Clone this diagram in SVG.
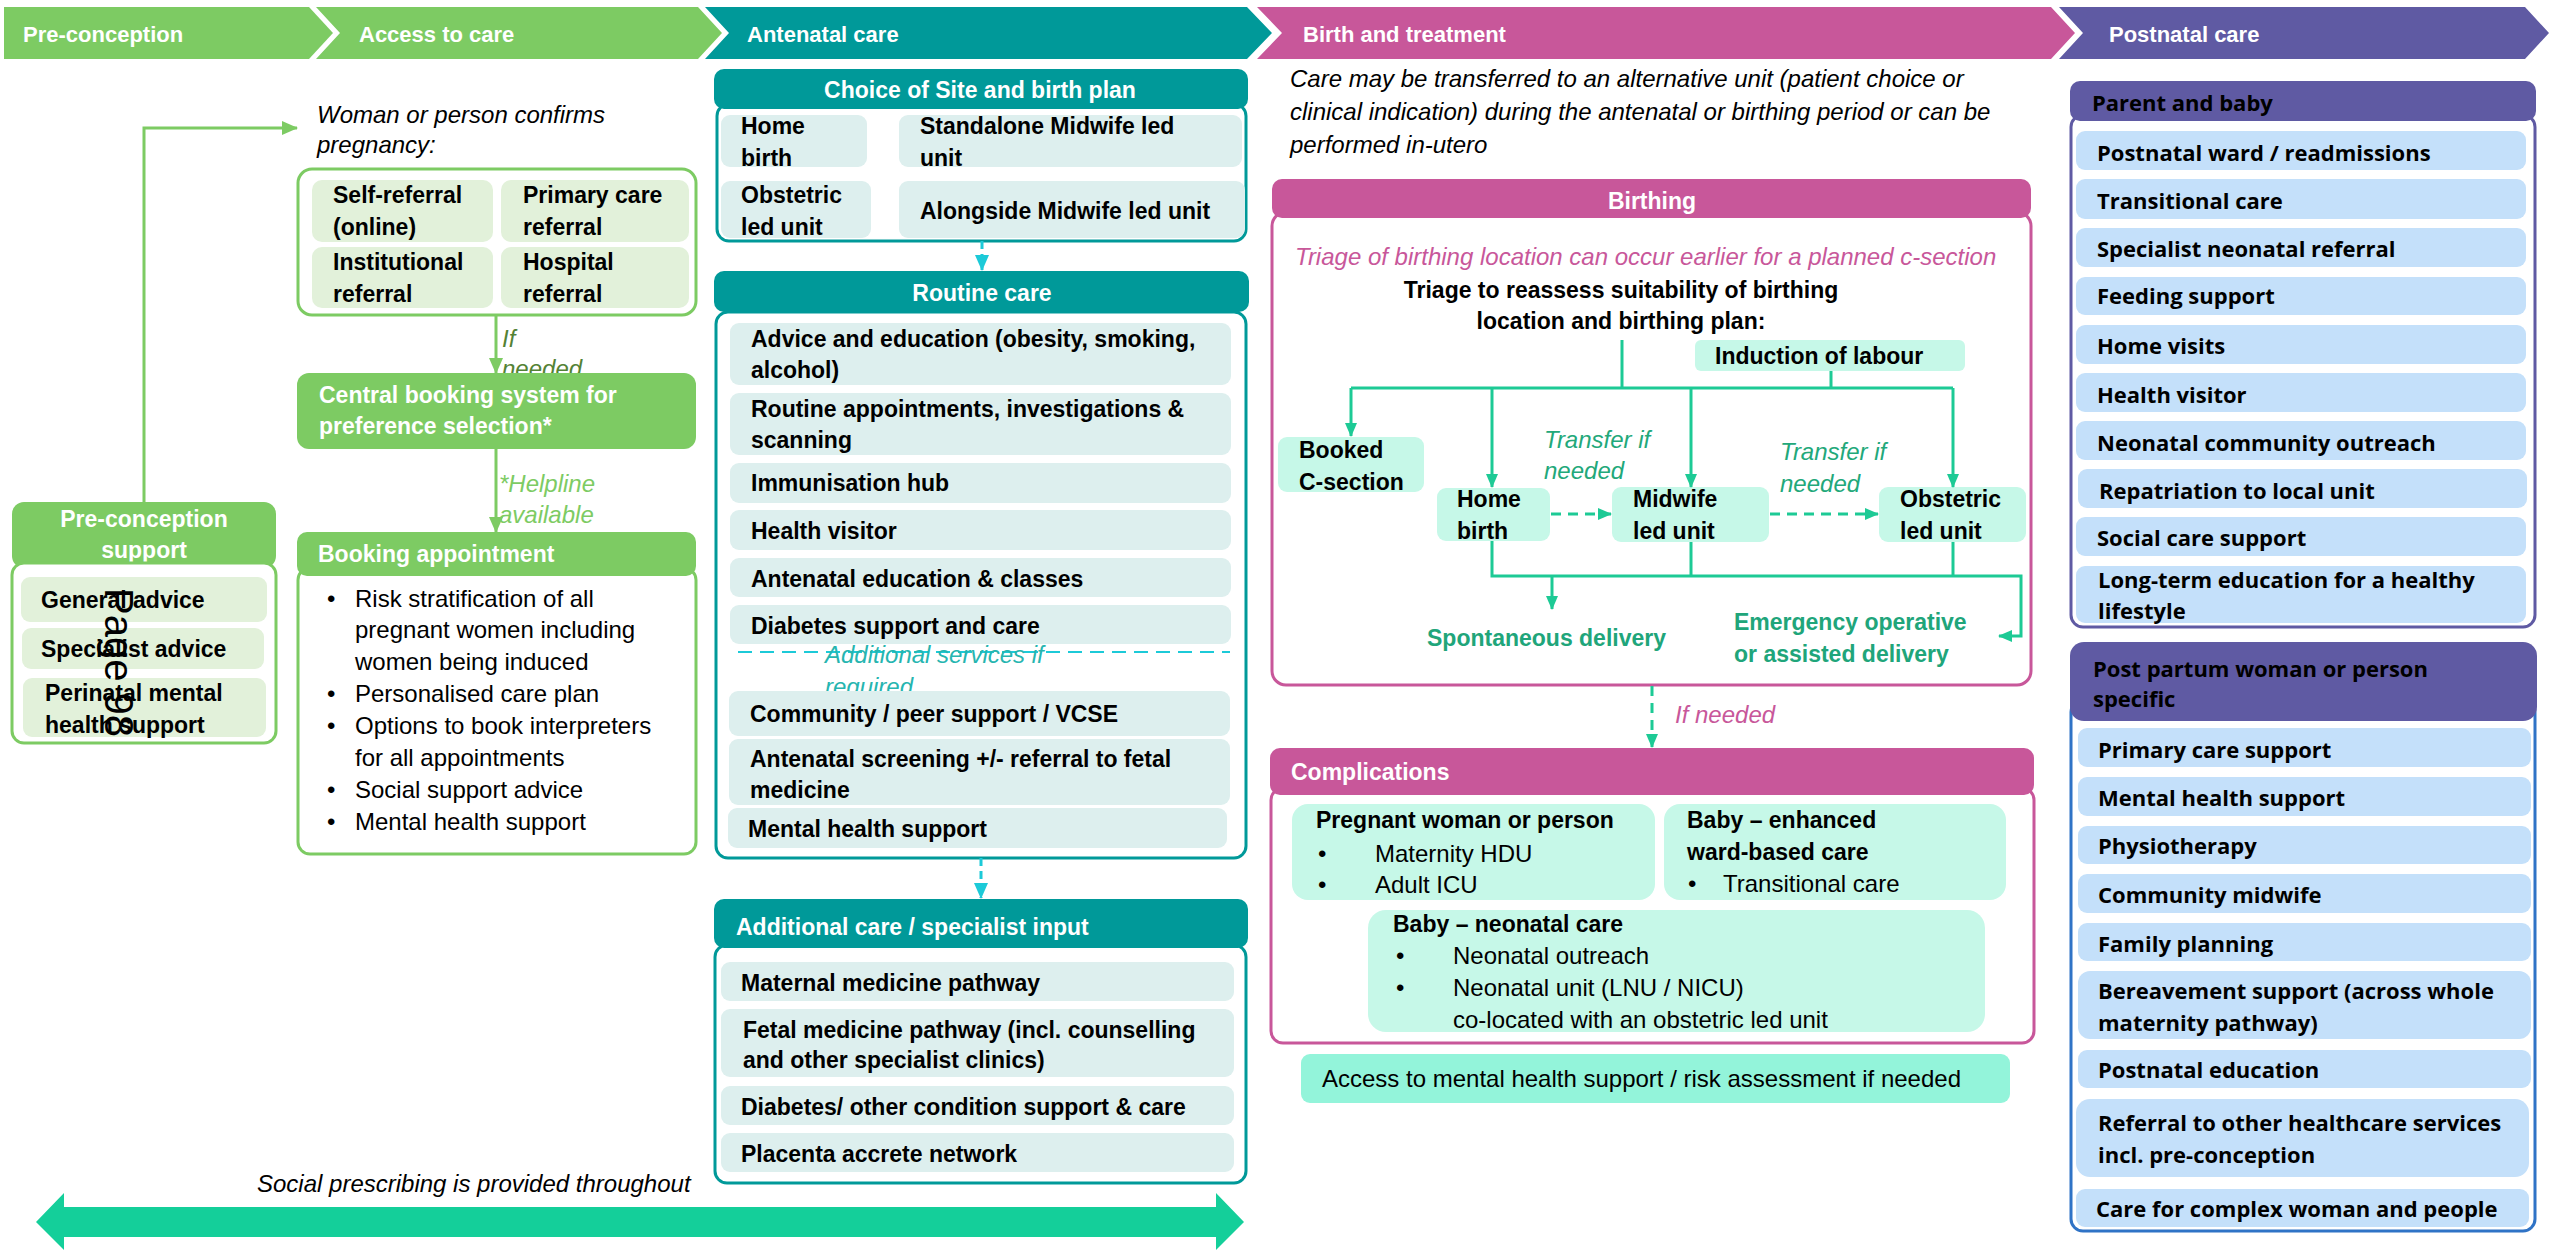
<svg xmlns="http://www.w3.org/2000/svg" width="2560" height="1254" viewBox="0 0 2560 1254">
<style>
text{font-family:"Liberation Sans",Arial,sans-serif}
.b{font-weight:bold;font-size:23px;fill:#000}
.hb{font-weight:bold;font-size:22px;fill:#fff}
.w{fill:#fff}
.r{font-size:24px;fill:#000}
.i{font-style:italic;font-size:24px}
.o{font-family:"Open Sans","Liberation Sans",sans-serif;font-weight:bold;font-size:22px;fill:#000}
.c{text-anchor:middle}
.dg{fill:#20A57A}
.gitem{fill:#E2F1DA}
.titem{fill:#DDEFEE}
.mint{fill:#C6F8E8}
.blue{fill:#C4E0FA}
.gfill{fill:#7DCB63}
.tfill{fill:#009999}
.pfill{fill:#C8579A}
.ufill{fill:#5F5AA3}
.gbox{fill:#fff;stroke:#7DCB63;stroke-width:3}
.tbox{fill:#fff;stroke:#009999;stroke-width:3}
.pbox{fill:#fff;stroke:#C8579A;stroke-width:3}
.ubox{fill:#fff;stroke:#5F5AA3;stroke-width:3}
.bbox{fill:#fff;stroke:#2F73C6;stroke-width:3}
.gl{fill:none;stroke:#7DCB63;stroke-width:3}
.cl{fill:none;stroke:#1CCAD8;stroke-width:3;stroke-dasharray:8 5}
.ml{fill:none;stroke:#1DCA95;stroke-width:3}
.md{fill:none;stroke:#1DCA95;stroke-width:3;stroke-dasharray:10 7}
</style>
<defs>
<marker id="ag" viewBox="0 0 16 14" refX="15" refY="7" markerWidth="16" markerHeight="14" markerUnits="userSpaceOnUse" orient="auto"><path d="M0,0 L16,7 L0,14 z" fill="#7DCB63"/></marker>
<marker id="ac" viewBox="0 0 16 14" refX="15" refY="7" markerWidth="16" markerHeight="14" markerUnits="userSpaceOnUse" orient="auto"><path d="M0,0 L16,7 L0,14 z" fill="#1CCAD8"/></marker>
<marker id="am" viewBox="0 0 14 12" refX="13" refY="6" markerWidth="14" markerHeight="12" markerUnits="userSpaceOnUse" orient="auto"><path d="M0,0 L14,6 L0,12 z" fill="#1DCA95"/></marker>
</defs>
<rect width="2560" height="1254" fill="#fff"/>

<g id="phases">
<polygon class="gfill" points="4,7 309,7 333,33 309,59 4,59"/>
<text class="hb" x="23" y="42">Pre-conception</text>
<polygon class="gfill" points="316,7 698,7 722,33 698,59 316,59 340,33"/>
<text class="hb" x="359" y="42">Access to care</text>
<polygon class="tfill" points="705,7 1247,7 1272,33 1247,59 705,59 729,33"/>
<text class="hb" x="747" y="42">Antenatal care</text>
<polygon class="pfill" points="1257,7 2051,7 2075,33 2051,59 1257,59 1282,33"/>
<text class="hb" x="1303" y="42">Birth and treatment</text>
<polygon class="ufill" points="2059,7 2525,7 2549,33 2525,59 2059,59 2083,33"/>
<text class="hb" x="2109" y="42">Postnatal care</text>
</g>

<g id="preconception-support">
<rect class="gfill" x="12" y="502" width="264" height="66" rx="12"/>
<text class="b w c" x="144" y="527">Pre-conception</text>
<text class="b w c" x="144" y="558">support</text>
<rect class="gbox" x="12" y="563" width="264" height="180" rx="12"/>
<rect class="gitem" x="21" y="577" width="246" height="45" rx="9"/>
<text class="b" x="41" y="608">General advice</text>
<rect class="gitem" x="22" y="628" width="242" height="41" rx="9"/>
<text class="b" x="41" y="657">Specialist advice</text>
<rect class="gitem" x="23" y="678" width="243" height="59" rx="9"/>
<text class="b" x="45" y="701">Perinatal mental</text>
<text class="b" x="45" y="733">health support</text>
</g>
<text class="r" style="font-size:40px" transform="translate(105,588) rotate(90)">Page 98</text>

<g id="confirm-pregnancy">
<text class="i" x="317" y="123">Woman or person confirms</text>
<text class="i" x="317" y="153">pregnancy:</text>
</g>

<g id="referral-routes">
<rect class="gbox" x="298" y="169" width="398" height="146" rx="14"/>
<rect class="gitem" x="312" y="180" width="181" height="62" rx="10"/>
<text class="b" x="333" y="203">Self-referral</text>
<text class="b" x="333" y="235">(online)</text>
<rect class="gitem" x="501" y="180" width="188" height="62" rx="10"/>
<text class="b" x="523" y="203">Primary care</text>
<text class="b" x="523" y="235">referral</text>
<rect class="gitem" x="312" y="247" width="181" height="61" rx="10"/>
<text class="b" x="333" y="270">Institutional</text>
<text class="b" x="333" y="302">referral</text>
<rect class="gitem" x="501" y="247" width="188" height="61" rx="10"/>
<text class="b" x="523" y="270">Hospital</text>
<text class="b" x="523" y="302">referral</text>
</g>

<g id="label-if-needed">
<text class="i" x="502" y="347" fill="#548235">If</text>
<text class="i" x="502" y="377" fill="#548235">needed</text>
</g>

<g id="central-booking">
<rect class="gfill" x="297" y="373" width="399" height="76" rx="12"/>
<text class="b w" x="319" y="403">Central booking system for</text>
<text class="b w" x="319" y="434">preference selection*</text>
</g>

<g id="label-helpline">
<text class="i" x="499" y="492" fill="#7DCB63">*Helpline</text>
<text class="i" x="499" y="523" fill="#7DCB63">available</text>
</g>

<g id="booking-appointment">
<rect class="gbox" x="298" y="568" width="398" height="286" rx="12"/>
<rect class="gfill" x="297" y="532" width="399" height="44" rx="10"/>
<text class="b w" x="318" y="562">Booking appointment</text>
<text class="r" x="327" y="607">•</text><text class="r" x="355" y="607">Risk stratification of all</text>
<text class="r" x="355" y="638">pregnant women including</text>
<text class="r" x="355" y="670">women being induced</text>
<text class="r" x="327" y="702">•</text><text class="r" x="355" y="702">Personalised care plan</text>
<text class="r" x="327" y="734">•</text><text class="r" x="355" y="734">Options to book interpreters</text>
<text class="r" x="355" y="766">for all appointments</text>
<text class="r" x="327" y="798">•</text><text class="r" x="355" y="798">Social support advice</text>
<text class="r" x="327" y="830">•</text><text class="r" x="355" y="830">Mental health support</text>
</g>

<g id="choice-of-site">
<rect class="tbox" x="717" y="104" width="529" height="137" rx="12"/>
<rect class="tfill" x="714" y="69" width="534" height="40" rx="10"/>
<text class="b w c" x="980" y="98">Choice of Site and birth plan</text>
<rect class="titem" x="721" y="115" width="146" height="52" rx="9"/>
<text class="b" x="741" y="134">Home</text>
<text class="b" x="741" y="166">birth</text>
<rect class="titem" x="899" y="115" width="343" height="52" rx="9"/>
<text class="b" x="920" y="134">Standalone Midwife led</text>
<text class="b" x="920" y="166">unit</text>
<rect class="titem" x="721" y="181" width="150" height="57" rx="9"/>
<text class="b" x="741" y="203">Obstetric</text>
<text class="b" x="741" y="235">led unit</text>
<rect class="titem" x="899" y="181" width="346" height="57" rx="9"/>
<text class="b" x="920" y="219">Alongside Midwife led unit</text>
</g>

<g id="routine-care">
<rect class="tbox" x="716" y="312" width="530" height="546" rx="12"/>
<rect class="tfill" x="714" y="271" width="535" height="41" rx="10"/>
<text class="b w c" x="982" y="301">Routine care</text>
<rect class="titem" x="730" y="323" width="501" height="62" rx="9"/>
<text class="b" x="751" y="347">Advice and education (obesity, smoking,</text>
<text class="b" x="751" y="378">alcohol)</text>
<rect class="titem" x="730" y="393" width="501" height="62" rx="9"/>
<text class="b" x="751" y="417">Routine appointments, investigations &amp;</text>
<text class="b" x="751" y="448">scanning</text>
<rect class="titem" x="730" y="463" width="501" height="40" rx="9"/>
<text class="b" x="751" y="491">Immunisation hub</text>
<rect class="titem" x="730" y="510" width="501" height="40" rx="9"/>
<text class="b" x="751" y="539">Health visitor</text>
<rect class="titem" x="730" y="558" width="501" height="39" rx="9"/>
<text class="b" x="751" y="587">Antenatal education &amp; classes</text>
<rect class="titem" x="730" y="605" width="501" height="39" rx="9"/>
<text class="b" x="751" y="634">Diabetes support and care</text>
<path d="M738,652 H1230" fill="none" stroke="#1CCAD8" stroke-width="2" stroke-dasharray="14 8"/>
<text class="i" x="825" y="663" fill="#26B5B0">Additional services if</text>
<text class="i" x="825" y="695" fill="#26B5B0">required</text>
<rect class="titem" x="729" y="691" width="501" height="45" rx="9"/>
<text class="b" x="750" y="722">Community / peer support / VCSE</text>
<rect class="titem" x="729" y="739" width="501" height="66" rx="9"/>
<text class="b" x="750" y="767">Antenatal screening +/- referral to fetal</text>
<text class="b" x="750" y="798">medicine</text>
<rect class="titem" x="728" y="808" width="499" height="40" rx="9"/>
<text class="b" x="748" y="837">Mental health support</text>
</g>

<g id="additional-care">
<rect class="tbox" x="715" y="945" width="531" height="238" rx="12"/>
<rect class="tfill" x="714" y="899" width="534" height="49" rx="10"/>
<text class="b w" x="736" y="935">Additional care / specialist input</text>
<rect class="titem" x="721" y="962" width="513" height="39" rx="9"/>
<text class="b" x="741" y="991">Maternal medicine pathway</text>
<rect class="titem" x="721" y="1009" width="513" height="68" rx="9"/>
<text class="b" x="743" y="1038">Fetal medicine pathway (incl. counselling</text>
<text class="b" x="743" y="1068">and other specialist clinics)</text>
<rect class="titem" x="721" y="1086" width="513" height="39" rx="9"/>
<text class="b" x="741" y="1115">Diabetes/ other condition support &amp; care</text>
<rect class="titem" x="721" y="1133" width="513" height="39" rx="9"/>
<text class="b" x="741" y="1162">Placenta accrete network</text>
</g>

<g id="transfer-note">
<text class="i" x="1290" y="87">Care may be transferred to an alternative unit (patient choice or</text>
<text class="i" x="1290" y="120">clinical indication) during the antenatal or birthing period or can be</text>
<text class="i" x="1290" y="153">performed in-utero</text>
</g>

<g id="birthing">
<rect class="pbox" x="1272" y="212" width="759" height="473" rx="14"/>
<rect class="pfill" x="1272" y="179" width="759" height="39" rx="10"/>
<text class="b w c" x="1652" y="209">Birthing</text>
<text class="i" x="1295" y="265" fill="#C8579A">Triage of birthing location can occur earlier for a planned c-section</text>
<text class="b c" x="1621" y="298">Triage to reassess suitability of birthing</text>
<text class="b c" x="1621" y="329">location and birthing plan:</text>
</g>

<g id="induction-of-labour">
<rect class="mint" x="1695" y="340" width="270" height="31" rx="6"/>
<text class="b" x="1715" y="364">Induction of labour</text>
</g>
<g id="booked-c-section">
<rect class="mint" x="1278" y="437" width="146" height="55" rx="9"/>
<text class="b" x="1299" y="458">Booked</text>
<text class="b" x="1299" y="490">C-section</text>
</g>
<g id="home-birth">
<rect class="mint" x="1437" y="488" width="113" height="53" rx="9"/>
<text class="b" x="1457" y="507">Home</text>
<text class="b" x="1457" y="539">birth</text>
</g>
<g id="midwife-led-unit">
<rect class="mint" x="1612" y="487" width="157" height="55" rx="9"/>
<text class="b" x="1633" y="507">Midwife</text>
<text class="b" x="1633" y="539">led unit</text>
</g>
<g id="obstetric-led-unit">
<rect class="mint" x="1879" y="487" width="147" height="55" rx="9"/>
<text class="b" x="1900" y="507">Obstetric</text>
<text class="b" x="1900" y="539">led unit</text>
</g>
<g id="transfer-labels">
<text class="i" x="1544" y="448" fill="#22A87A">Transfer if</text>
<text class="i" x="1544" y="479" fill="#22A87A">needed</text>
<text class="i" x="1780" y="460" fill="#22A87A">Transfer if</text>
<text class="i" x="1780" y="492" fill="#22A87A">needed</text>
</g>
<g id="spontaneous-delivery">
<text class="b dg" x="1427" y="646">Spontaneous delivery</text>
</g>
<g id="emergency-delivery">
<text class="b dg" x="1734" y="630">Emergency operative</text>
<text class="b dg" x="1734" y="662">or assisted delivery</text>
</g>

<g id="label-if-needed-2">
<text class="i" x="1675" y="723" fill="#C8579A">If needed</text>
</g>

<g id="complications">
<rect class="pbox" x="1271" y="788" width="763" height="255" rx="12"/>
<rect class="pfill" x="1270" y="748" width="764" height="47" rx="10"/>
<text class="b w" x="1291" y="780">Complications</text>
<rect class="mint" x="1292" y="804" width="363" height="96" rx="16"/>
<text class="b" x="1316" y="828">Pregnant woman or person</text>
<text class="r" x="1318" y="862">•</text><text class="r" x="1375" y="862">Maternity HDU</text>
<text class="r" x="1318" y="893">•</text><text class="r" x="1375" y="893">Adult ICU</text>
<rect class="mint" x="1664" y="804" width="342" height="96" rx="16"/>
<text class="b" x="1687" y="828">Baby – enhanced</text>
<text class="b" x="1687" y="860">ward-based care</text>
<text class="r" x="1688" y="892">•</text><text class="r" x="1723" y="892">Transitional care</text>
<rect class="mint" x="1368" y="910" width="617" height="122" rx="18"/>
<text class="b" x="1393" y="932">Baby – neonatal care</text>
<text class="r" x="1396" y="964">•</text><text class="r" x="1453" y="964">Neonatal outreach</text>
<text class="r" x="1396" y="996">•</text><text class="r" x="1453" y="996">Neonatal unit (LNU / NICU)</text>
<text class="r" x="1453" y="1028">co-located with an obstetric led unit</text>
</g>

<g id="mental-health-access">
<rect x="1301" y="1054" width="709" height="49" rx="9" fill="#93F4DA"/>
<text class="r" x="1322" y="1087">Access to mental health support / risk assessment if needed</text>
</g>

<g id="parent-and-baby">
<rect class="ubox" x="2071" y="115" width="464" height="512" rx="12"/>
<rect class="ufill" x="2070" y="81" width="466" height="40" rx="10"/>
<text class="o w" x="2092" y="111">Parent and baby</text>
<rect class="blue" x="2076" y="131" width="450" height="39" rx="9"/>
<text class="o" x="2097" y="161">Postnatal ward / readmissions</text>
<rect class="blue" x="2076" y="179" width="450" height="40" rx="9"/>
<text class="o" x="2097" y="209">Transitional care</text>
<rect class="blue" x="2076" y="228" width="450" height="39" rx="9"/>
<text class="o" x="2097" y="257">Specialist neonatal referral</text>
<rect class="blue" x="2076" y="277" width="450" height="38" rx="9"/>
<text class="o" x="2097" y="304">Feeding support</text>
<rect class="blue" x="2076" y="325" width="450" height="39" rx="9"/>
<text class="o" x="2097" y="354">Home visits</text>
<rect class="blue" x="2076" y="373" width="450" height="39" rx="9"/>
<text class="o" x="2097" y="403">Health visitor</text>
<rect class="blue" x="2076" y="421" width="450" height="39" rx="9"/>
<text class="o" x="2097" y="451">Neonatal community outreach</text>
<rect class="blue" x="2078" y="469" width="449" height="39" rx="9"/>
<text class="o" x="2099" y="499">Repatriation to local unit</text>
<rect class="blue" x="2076" y="517" width="450" height="39" rx="9"/>
<text class="o" x="2097" y="546">Social care support</text>
<rect class="blue" x="2076" y="566" width="450" height="57" rx="9"/>
<text class="o" x="2098" y="588">Long-term education for a healthy</text>
<text class="o" x="2098" y="619">lifestyle</text>
</g>

<g id="post-partum">
<rect class="bbox" x="2071" y="700" width="464" height="531" rx="12"/>
<rect class="ufill" x="2070" y="642" width="467" height="79" rx="14"/>
<text class="o w" x="2093" y="677">Post partum woman or person</text>
<text class="o w" x="2093" y="707">specific</text>
<rect class="blue" x="2078" y="728" width="453" height="39" rx="9"/>
<text class="o" x="2098" y="758">Primary care support</text>
<rect class="blue" x="2078" y="777" width="453" height="39" rx="9"/>
<text class="o" x="2098" y="806">Mental health support</text>
<rect class="blue" x="2078" y="826" width="453" height="38" rx="9"/>
<text class="o" x="2098" y="854">Physiotherapy</text>
<rect class="blue" x="2078" y="874" width="453" height="39" rx="9"/>
<text class="o" x="2098" y="903">Community midwife</text>
<rect class="blue" x="2078" y="923" width="453" height="38" rx="9"/>
<text class="o" x="2098" y="952">Family planning</text>
<rect class="blue" x="2078" y="971" width="453" height="68" rx="12"/>
<text class="o" x="2098" y="999">Bereavement support (across whole</text>
<text class="o" x="2098" y="1031">maternity pathway)</text>
<rect class="blue" x="2078" y="1050" width="453" height="38" rx="9"/>
<text class="o" x="2098" y="1078">Postnatal education</text>
<rect class="blue" x="2076" y="1099" width="453" height="78" rx="14"/>
<text class="o" x="2098" y="1131">Referral to other healthcare services</text>
<text class="o" x="2098" y="1163">incl. pre-conception</text>
<rect class="blue" x="2076" y="1189" width="453" height="38" rx="9"/>
<text class="o" x="2096" y="1217">Care for complex woman and people</text>
</g>

<g id="social-prescribing">
<text class="i" x="257" y="1192" fill="#000">Social prescribing is provided throughout</text>
</g>

<g id="connectors">
<path class="gl" d="M144,502 V128 H297" marker-end="url(#ag)"/>
<path class="gl" d="M496,315 V373" marker-end="url(#ag)"/>
<path class="gl" d="M496,449 V532" marker-end="url(#ag)"/>
<path class="cl" d="M982,241 V270" marker-end="url(#ac)"/>
<path class="cl" d="M981,858 V898" marker-end="url(#ac)"/>
<path class="ml" d="M1622,340 V388"/>
<path class="ml" d="M1831,371 V388"/>
<path class="ml" d="M1351,388 H1953"/>
<path class="ml" d="M1351,388 V436" marker-end="url(#am)"/>
<path class="ml" d="M1492,388 V487" marker-end="url(#am)"/>
<path class="ml" d="M1691,388 V487" marker-end="url(#am)"/>
<path class="ml" d="M1953,388 V487" marker-end="url(#am)"/>
<path class="md" d="M1551,514 H1611" marker-end="url(#am)"/>
<path class="md" d="M1770,514 H1878" marker-end="url(#am)"/>
<path class="ml" d="M1492,541 V576 H2021 V636 H1999" marker-end="url(#am)"/>
<path class="ml" d="M1691,542 V576"/>
<path class="ml" d="M1953,542 V576"/>
<path class="ml" d="M1552,576 V609" marker-end="url(#am)"/>
<path class="md" d="M1652,686 V747" marker-end="url(#am)"/>
<polygon fill="#14CF9A" points="36,1222 64,1193 64,1207 1216,1207 1216,1193 1244,1222 1216,1250 1216,1237 64,1237 64,1250"/>
</g>
</svg>
